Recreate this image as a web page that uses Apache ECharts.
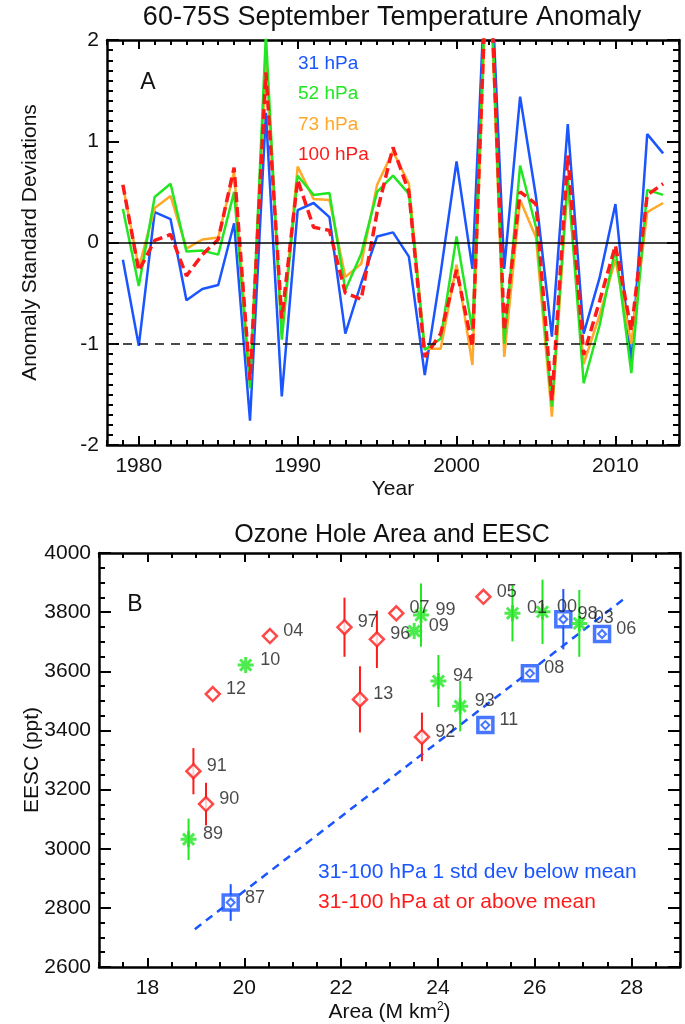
<!DOCTYPE html>
<html>
<head>
<meta charset="utf-8">
<title>60-75S September Temperature Anomaly / Ozone Hole Area and EESC</title>
<script src="https://cdn.jsdelivr.net/npm/echarts/dist/echarts.min.js"></script>
<style>
  html, body { margin: 0; padding: 0; background: #fff; }
  #chart { width: 685px; height: 1024px; }
</style>
</head>
<body>
<div id="chart"></div>
<script>
// ---- panel A: temperature anomaly (standard deviations) ----
var years = [1979, 1980, 1981, 1982, 1983, 1984, 1985, 1986, 1987, 1988,
  1989, 1990, 1991, 1992, 1993, 1994, 1995, 1996, 1997, 1998,
  1999, 2000, 2001, 2002, 2003, 2004, 2005, 2006, 2007, 2008,
  2009, 2010, 2011, 2012, 2013];
var hpa31 = [-0.17, -1.02, 0.30, 0.23, -0.57, -0.46, -0.42, 0.19, -1.76, 1.28,
  -1.52, 0.32, 0.39, 0.25, -0.90, -0.40, 0.06, 0.10, -0.14, -1.31,
  -0.30, 0.80, -0.26, 3.30, -0.26, 1.44, 0.45, -0.93, 1.17, -0.90,
  -0.35, 0.38, -1.19, 1.07, 0.88];
var hpa52 = [0.33, -0.43, 0.45, 0.58, -0.09, -0.08, -0.12, 0.50, -1.44, 2.05,
  -0.96, 0.66, 0.47, 0.49, -0.47, -0.11, 0.50, 0.66, 0.48, -1.06,
  -0.95, 0.06, -0.87, 3.20, -1.00, 0.76, 0.15, -1.62, 0.65, -1.39,
  -0.82, -0.06, -1.29, 0.52, 0.47];
var hpa73 = [0.56, -0.25, 0.34, 0.46, -0.06, 0.03, 0.05, 0.70, -1.38, 1.78,
  -0.90, 0.75, 0.43, 0.42, -0.34, -0.21, 0.57, 0.90, 0.58, -1.05,
  -1.05, -0.22, -1.21, 3.10, -1.13, 0.42, 0.05, -1.72, 0.60, -1.20,
  -0.72, -0.17, -1.00, 0.30, 0.39];
var hpa100 = [0.57, -0.28, 0.02, 0.08, -0.33, -0.12, 0.03, 0.74, -1.36, 1.68,
  -0.75, 0.62, 0.15, 0.12, -0.50, -0.56, 0.30, 0.94, 0.50, -1.13,
  -0.90, -0.27, -1.03, 3.20, -0.87, 0.50, 0.38, -1.56, 0.86, -1.11,
  -0.58, -0.03, -0.87, 0.47, 0.58];
var yearTicks = [1980, 1990, 2000, 2010];

// ---- panel B: ozone hole area vs EESC ----
// cold years (1 std dev below mean) - blue squares
var coldYear = ['87', '98', '06', '08', '11'];
var coldArea = [19.72, 26.59, 27.39, 25.90, 24.98];
var coldEesc = [2818, 3776, 3726, 3593, 3418];
var coldErr = [62, 102, 0, 0, 0];
// warm years (at or above mean) - red diamonds
var warmYear = ['90', '91', '92', '96', '97', '04', '05', '07', '12', '13'];
var warmArea = [19.21, 18.95, 23.67, 22.74, 22.07, 20.53, 24.94, 23.14, 19.35, 22.39];
var warmEesc = [3151, 3262, 3378, 3708, 3749, 3719, 3852, 3796, 3523, 3505];
var warmErr = [72, 78, 82, 97, 100, 0, 0, 0, 0, 112];
// other years - green asterisks
var midYear = ['89', '93', '94', '99', '00', '01', '03', '09', '10'];
var midArea = [18.85, 24.46, 24.01, 23.65, 26.16, 25.54, 26.92, 23.51, 20.03];
var midEesc = [3032, 3482, 3567, 3790, 3801, 3796, 3762, 3736, 3621];
var midErr = [70, 85, 88, 107, 109, 95, 113, 0, 0];
// dashed fit through the cold years
var fitArea = [18.98, 27.9];
var fitEesc = [2728, 3852];
var areaTicks = [18, 20, 22, 24, 26, 28];

var BLUE = '#1a55ff';
var GREEN = '#22e622';
var ORANGE = '#ffa82a';
var RED = '#ff1a1a';
var FONT = 'Liberation Sans, Arial, Helvetica, sans-serif';

var chart = echarts.init(document.getElementById('chart'));

function plain(v) { return String(v); }

// x axes: one carries labels + long ticks, a second one the short yearly / half ticks
function xAxes(grid, min, max, step, majors, name, nameRich) {
  var line = { show: true, onZero: false, lineStyle: { color: '#000', width: 2.5 } };
  var base = { gridIndex: grid, type: 'value', min: min, max: max, splitLine: { show: false } };
  return [
    Object.assign({}, base, {
      position: 'bottom', axisLine: line,
      axisTick: { show: true, inside: true, length: 9, customValues: majors, lineStyle: { color: '#000', width: 2 } },
      axisLabel: { show: true, customValues: majors, margin: 11, formatter: plain, color: '#111', fontSize: 21, fontFamily: FONT },
      name: name, nameLocation: 'middle', nameGap: 34, nameMoveOverlap: false,
      nameTextStyle: { color: '#111', fontSize: 21, fontFamily: FONT, rich: nameRich }
    }),
    Object.assign({}, base, {
      position: 'bottom', interval: step, axisLine: { show: false, onZero: false },
      axisTick: { show: true, inside: true, length: 5, lineStyle: { color: '#000', width: 2 } },
      axisLabel: { show: false }
    }),
    Object.assign({}, base, {
      position: 'top', axisLine: line,
      axisTick: { show: true, inside: true, length: 9, customValues: majors, lineStyle: { color: '#000', width: 2 } },
      axisLabel: { show: false }
    }),
    Object.assign({}, base, {
      position: 'top', interval: step, axisLine: { show: false, onZero: false },
      axisTick: { show: true, inside: true, length: 5, lineStyle: { color: '#000', width: 2 } },
      axisLabel: { show: false }
    })
  ];
}

function yAxes(grid, min, max, step, minorSplit, name, nameGap) {
  var common = {
    gridIndex: grid, type: 'value', min: min, max: max, interval: step,
    splitLine: { show: false },
    axisLine: { show: true, onZero: false, lineStyle: { color: '#000', width: 2.5 } },
    axisTick: { show: true, inside: true, length: 12, lineStyle: { color: '#000', width: 2 } },
    minorTick: { show: true, splitNumber: minorSplit, length: 6, lineStyle: { color: '#000', width: 2 } }
  };
  return [
    Object.assign({}, common, {
      position: 'left',
      axisLabel: { margin: 8, formatter: plain, color: '#111', fontSize: 21, fontFamily: FONT },
      name: name, nameLocation: 'middle', nameGap: nameGap, nameMoveOverlap: false,
      nameTextStyle: { color: '#111', fontSize: 21, fontFamily: FONT }
    }),
    Object.assign({}, common, { position: 'right', axisLabel: { show: false } })
  ];
}

function anomalyLine(name, values, color, dash, width) {
  return {
    name: name, type: 'line', xAxisIndex: 0, yAxisIndex: 0,
    data: years.map(function (y, i) { return [y, values[i]]; }),
    symbol: 'none', clip: true,
    lineStyle: { color: color, width: width, type: dash }
  };
}

function errorBars(area, eesc, err, color) {
  return {
    type: 'custom', xAxisIndex: 4, yAxisIndex: 2, z: 3,
    encode: { x: 0, y: [1, 2] },
    data: area.map(function (a, i) { return [a, eesc[i] - err[i], eesc[i] + err[i]]; }),
    renderItem: function (params, api) {
      var lo = api.coord([api.value(0), api.value(1)]);
      var hi = api.coord([api.value(0), api.value(2)]);
      return {
        type: 'line',
        shape: { x1: lo[0], y1: lo[1], x2: hi[0], y2: hi[1] },
        style: { stroke: color, lineWidth: 2 }
      };
    }
  };
}

function points(area, eesc, labels, symbol, size, style, showLabel) {
  return {
    type: 'scatter', xAxisIndex: 4, yAxisIndex: 2, z: 5,
    data: area.map(function (a, i) { return [a, eesc[i], labels[i]]; }),
    symbol: symbol, symbolSize: size,
    itemStyle: style,
    label: {
      show: showLabel, position: 'right', distance: 5, offset: [0, -5],
      formatter: function (p) { return p.value[2]; },
      color: '#1a1a1a', fontSize: 18, fontFamily: FONT
    }
  };
}

var line31 = anomalyLine('31 hPa', hpa31, BLUE, 'solid', 2.5);
// zero line and the -1 std dev line
line31.markLine = {
  silent: true, symbol: 'none', label: { show: false },
  data: [
    { yAxis: 0, lineStyle: { color: '#000', width: 1.5, type: 'solid' } },
    { yAxis: -1, lineStyle: { color: '#111', width: 1.5, type: [9, 7] } }
  ]
};

var asterisk = 'path://M10,0L10,20M0,10L20,10M3,3L17,17M3,17L17,3';

var option = {
  animation: false,
  backgroundColor: '#fff',
  grid: [
    { left: 107, right: 6, top: 40, height: 405, containLabel: false, outerBoundsMode: 'none' },
    { left: 99, right: 5, top: 553, height: 414, containLabel: false, outerBoundsMode: 'none' }
  ],
  xAxis: xAxes(0, 1978, 2014, 1, yearTicks, 'Year')
    .concat(xAxes(1, 17, 29, 0.5, areaTicks, 'Area (M km{sup|2})',
      { sup: { fontSize: 12, verticalAlign: 'top', padding: [0, 0, 10, 0], color: '#111', fontFamily: FONT } })),
  yAxis: yAxes(0, -2, 2, 1, 10, 'Anomaly Standard Deviations', 66)
    .concat(yAxes(1, 2600, 4000, 200, 4, 'EESC (ppt)', 56)),
  series: [
    line31,
    anomalyLine('73 hPa', hpa73, ORANGE, 'solid', 2.5),
    anomalyLine('52 hPa', hpa52, GREEN, 'solid', 2.5),
    anomalyLine('100 hPa', hpa100, RED, [10, 5], 3.5),
    {
      type: 'line', xAxisIndex: 4, yAxisIndex: 2, z: 2, symbol: 'none',
      data: fitArea.map(function (a, i) { return [a, fitEesc[i]]; }),
      lineStyle: { color: BLUE, width: 2.5, type: [8, 6] }
    },
    errorBars(coldArea, coldEesc, coldErr, BLUE),
    errorBars(warmArea, warmEesc, warmErr, RED),
    errorBars(midArea, midEesc, midErr, GREEN),
    points(coldArea, coldEesc, coldYear, 'rect', 15, { color: '#fff', borderColor: BLUE, borderWidth: 3.5 }, true),
    points(coldArea, coldEesc, coldYear, 'diamond', 8, { color: '#fff', borderColor: BLUE, borderWidth: 2 }, false),
    points(warmArea, warmEesc, warmYear, 'diamond', 14, { color: '#fff', borderColor: RED, borderWidth: 2.5 }, true),
    points(midArea, midEesc, midYear, asterisk, 16, { color: GREEN, borderColor: GREEN, borderWidth: 3 }, true)
  ],
  graphic: [
    { type: 'text', x: 392, y: 18, style: { text: '60-75S September Temperature Anomaly', fill: '#111', fontSize: 27, fontFamily: FONT, align: 'center', verticalAlign: 'middle' } },
    { type: 'text', x: 148, y: 83, style: { text: 'A', fill: '#111', fontSize: 23, fontFamily: FONT, align: 'center', verticalAlign: 'middle' } },
    { type: 'text', x: 298, y: 64, style: { text: '31 hPa', fill: BLUE, fontSize: 19, fontFamily: FONT, verticalAlign: 'middle' } },
    { type: 'text', x: 298, y: 94, style: { text: '52 hPa', fill: GREEN, fontSize: 19, fontFamily: FONT, verticalAlign: 'middle' } },
    { type: 'text', x: 298, y: 125, style: { text: '73 hPa', fill: ORANGE, fontSize: 19, fontFamily: FONT, verticalAlign: 'middle' } },
    { type: 'text', x: 298, y: 155, style: { text: '100 hPa', fill: RED, fontSize: 19, fontFamily: FONT, verticalAlign: 'middle' } },
    { type: 'text', x: 392, y: 535, style: { text: 'Ozone Hole Area and EESC', fill: '#111', fontSize: 25, fontFamily: FONT, align: 'center', verticalAlign: 'middle' } },
    { type: 'text', x: 135, y: 605, style: { text: 'B', fill: '#111', fontSize: 23, fontFamily: FONT, align: 'center', verticalAlign: 'middle' } },
    { type: 'text', x: 318, y: 872, style: { text: '31-100 hPa 1 std dev below mean', fill: BLUE, fontSize: 21, fontFamily: FONT, verticalAlign: 'middle' } },
    { type: 'text', x: 318, y: 902, style: { text: '31-100 hPa at or above mean', fill: RED, fontSize: 21, fontFamily: FONT, verticalAlign: 'middle' } }
  ]
};

chart.setOption(option);
</script>
</body>
</html>
